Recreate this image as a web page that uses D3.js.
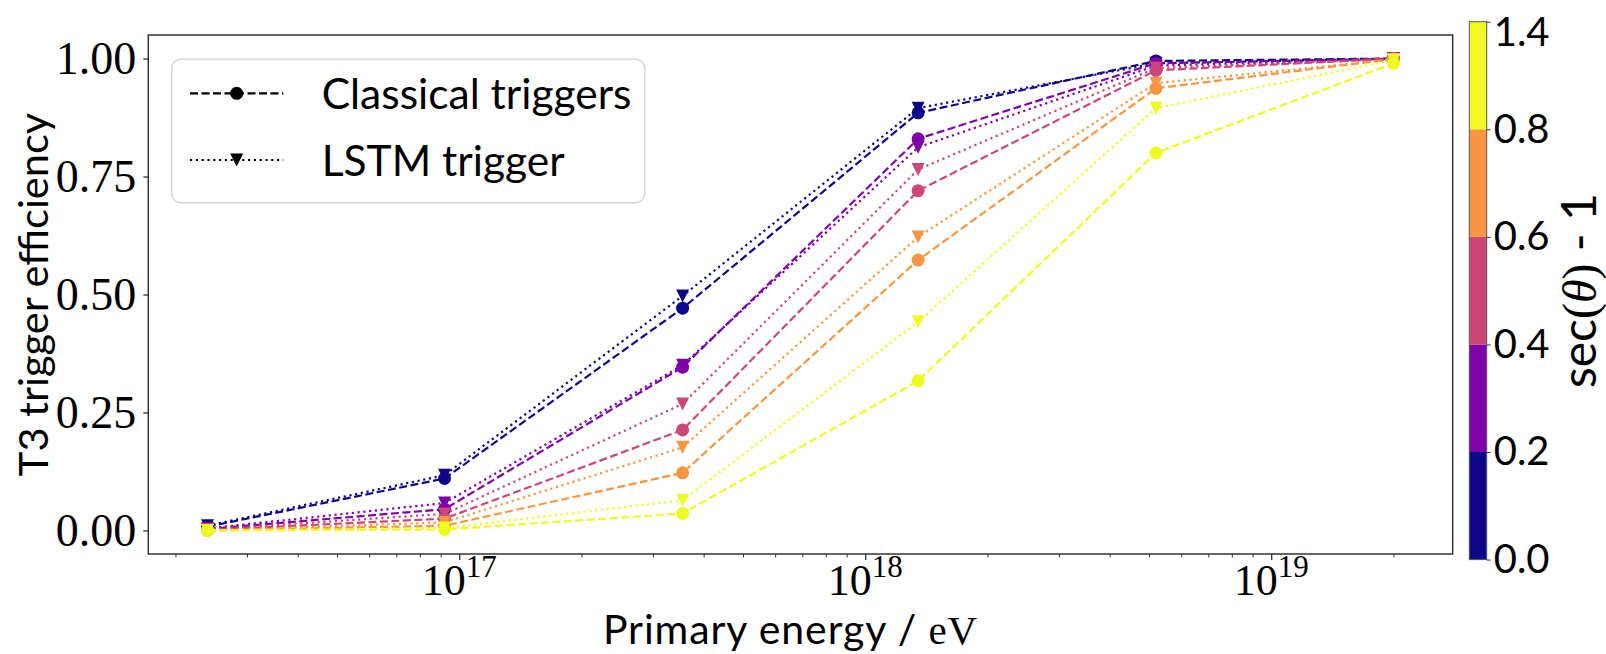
<!DOCTYPE html>
<html>
<head>
<meta charset="utf-8">
<script src="https://cdn.jsdelivr.net/npm/d3@7"></script>
<style>
  body { margin: 0; background: #fff; }
  svg { display: block; }
</style>
</head>
<body>
<svg id="chart" width="1606" height="654"></svg>
<script>
// primary energy of each bin (eV)
const energies = [2.4e16, 9.2e16, 3.55e17, 1.35e18, 5.2e18, 2.0e19];

// sec(theta) - 1 bins
const binEdges = [0.0, 0.2, 0.4, 0.6, 0.8, 1.4];
const binColors = ["#0d0887", "#7e03a8", "#cc4778", "#f89540", "#f0f921"];

// T3 efficiency, one row per zenith bin
const classical = [
    [0.008, 0.110, 0.471, 0.885, 0.995, 1.000],
    [0.003, 0.045, 0.346, 0.830, 0.990, 1.000],
    [0.001, 0.025, 0.213, 0.720, 0.975, 1.000],
    [0.000, 0.010, 0.122, 0.573, 0.937, 0.999],
    [0.000, 0.002, 0.036, 0.317, 0.800, 0.990]
];
const lstm = [
    [0.010, 0.117, 0.497, 0.895, 0.990, 1.000],
    [0.004, 0.058, 0.350, 0.812, 0.985, 0.999],
    [0.002, 0.035, 0.268, 0.765, 0.980, 0.999],
    [0.000, 0.017, 0.176, 0.622, 0.948, 0.998],
    [0.000, 0.005, 0.064, 0.442, 0.895, 0.997]
];

const yTicks = [0, 0.25, 0.5, 0.75, 1.0];
const xMajor = [1e17, 1e18, 1e19];
const legendItems = ["Classical triggers", "LSTM trigger"];

const SANS = "Lato, 'Open Sans', sans-serif";
const SERIF = "'Liberation Serif', 'DejaVu Serif', serif";

const plot = { left: 148.3, right: 1452.7, top: 35, bottom: 554 };

const svg = d3.select("#chart");

// log x with 5% margins like matplotlib autoscale
const lo = Math.log10(d3.min(energies)), hi = Math.log10(d3.max(energies));
const pad = 0.05 * (hi - lo);
const x = d3.scaleLog()
    .domain([Math.pow(10, lo - pad), Math.pow(10, hi + pad)])
    .range([plot.left, plot.right]);
const y = d3.scaleLinear().domain([-0.05, 1.05]).range([plot.bottom, plot.top]);

// minor ticks
let minor = [];
for (let p = 16; p <= 19; p++) {
    for (let m = 2; m <= 9; m++) {
        let v = m * Math.pow(10, p);
        if (v > x.domain()[0] && v < x.domain()[1]) minor.push(v);
    }
}

svg.append("g")
    .attr("transform", `translate(0,${plot.bottom})`)
    .call(d3.axisBottom(x).tickValues(minor).tickSize(3.5).tickFormat(""))
    .call(g => g.select(".domain").remove())
    .selectAll("line").attr("stroke", "#333").attr("stroke-width", 1);

const xAxis = svg.append("g")
    .attr("transform", `translate(0,${plot.bottom})`)
    .call(d3.axisBottom(x).tickValues(xMajor).tickSize(6).tickFormat(""));
xAxis.select(".domain").remove();
xAxis.selectAll("line").attr("stroke", "#333").attr("stroke-width", 1.3);

const xLab = svg.append("g").selectAll("text")
    .data(xMajor)
    .enter()
    .append("text")
    .attr("x", d => x(d))
    .attr("y", 595)
    .attr("text-anchor", "middle")
    .attr("font-family", SERIF)
    .attr("font-size", 44);
xLab.append("tspan").text("10");
xLab.append("tspan").attr("dy", -18).attr("font-size", 31).text(d => Math.round(Math.log10(d)));

const yAxis = svg.append("g")
    .attr("transform", `translate(${plot.left},0)`)
    .call(d3.axisLeft(y).tickValues(yTicks).tickSize(5).tickPadding(7).tickFormat(d3.format(".2f")));
yAxis.select(".domain").remove();
yAxis.selectAll("line").attr("stroke", "#333").attr("stroke-width", 1.3);
yAxis.selectAll("text")
    .attr("font-family", SERIF)
    .attr("font-size", 46)
    .attr("fill", "#000");

// lines and markers
const line = d3.line().x(d => x(d.e)).y(d => y(d.v));
const tri = "M-6.5,-6.5L6.5,-6.5L0,6.5Z";

binColors.forEach((col, i) => {
    const ptsL = energies.map((e, j) => ({ e: e, v: lstm[i][j] }));
    const ptsC = energies.map((e, j) => ({ e: e, v: classical[i][j] }));

    svg.append("path").datum(ptsL)
        .attr("d", line).attr("fill", "none").attr("stroke", col)
        .attr("stroke-width", 2.2).attr("stroke-dasharray", "2.2,3.6");
    svg.append("g").selectAll("path").data(ptsL).enter().append("path")
        .attr("d", tri)
        .attr("transform", d => `translate(${x(d.e)},${y(d.v)})`)
        .attr("fill", col);

    svg.append("path").datum(ptsC)
        .attr("d", line).attr("fill", "none").attr("stroke", col)
        .attr("stroke-width", 2.2).attr("stroke-dasharray", "8,3.5");
    svg.append("g").selectAll("circle").data(ptsC).enter().append("circle")
        .attr("cx", d => x(d.e)).attr("cy", d => y(d.v)).attr("r", 6.5)
        .attr("fill", col);
});

// frame
svg.append("rect")
    .attr("x", plot.left).attr("y", plot.top)
    .attr("width", plot.right - plot.left).attr("height", plot.bottom - plot.top)
    .attr("fill", "none").attr("stroke", "#333").attr("stroke-width", 1.5);

// legend
const leg = svg.append("g");
leg.append("rect")
    .attr("x", 171.7).attr("y", 59.3).attr("width", 473).attr("height", 143.4)
    .attr("rx", 9).attr("fill", "#fff").attr("fill-opacity", 0.8)
    .attr("stroke", "#d6d6d6").attr("stroke-width", 1.5);
legendItems.forEach((t, i) => {
    const cy = 93.3 + i * 66.7;
    leg.append("line")
        .attr("x1", 190).attr("x2", 283.3).attr("y1", cy).attr("y2", cy)
        .attr("stroke", "#000").attr("stroke-width", 2.2)
        .attr("stroke-dasharray", i == 0 ? "8,3.5" : "2.2,3.6");
    if (i == 0) {
        leg.append("circle").attr("cx", 236.7).attr("cy", cy).attr("r", 6.5).attr("fill", "#000");
    } else {
        leg.append("path").attr("d", tri).attr("transform", `translate(236.7,${cy})`).attr("fill", "#000");
    }
    leg.append("text")
        .attr("x", 321.7).attr("y", cy + 16)
        .attr("font-family", SANS).attr("font-size", 42.5)
        .text(t);
});

// axis labels
svg.append("text")
    .attr("x", (plot.left + plot.right) / 2 - 10).attr("y", 644)
    .attr("text-anchor", "middle")
    .attr("font-family", SANS).attr("font-size", 41)
    .attr("letter-spacing", 0.9)
    .call(t => {
        t.append("tspan").text("Primary energy / ");
        t.append("tspan").attr("font-family", SERIF).text("eV");
    });

svg.append("text")
    .attr("transform", `translate(48,${(plot.top + plot.bottom) / 2}) rotate(-90)`)
    .attr("text-anchor", "middle")
    .attr("font-family", SANS).attr("font-size", 41.5)
    .text("T3 trigger efficiency");

// colorbar
const cb = d3.scalePoint().domain(binEdges).range([559.6, 21.7]);
const cbX = 1469.3, cbW = 17.4;
svg.append("g").selectAll("rect")
    .data(binColors)
    .enter()
    .append("rect")
    .attr("x", cbX)
    .attr("y", (d, i) => cb(binEdges[i + 1]))
    .attr("width", cbW)
    .attr("height", (d, i) => cb(binEdges[i]) - cb(binEdges[i + 1]))
    .attr("fill", d => d);
svg.append("rect")
    .attr("x", cbX).attr("y", cb(1.4)).attr("width", cbW).attr("height", cb(0) - cb(1.4))
    .attr("fill", "none").attr("stroke", "#555").attr("stroke-width", 1);

const cbAxis = svg.append("g")
    .attr("transform", `translate(${cbX + cbW},0)`)
    .call(d3.axisRight(cb).tickSize(4).tickPadding(3).tickFormat(d => d.toFixed(1)));
cbAxis.select(".domain").remove();
cbAxis.selectAll("line").attr("stroke", "#333");
cbAxis.selectAll("text")
    .attr("font-family", SANS)
    .attr("font-size", 40)
    .attr("fill", "#000");
// top label sits a little lower so it stays inside the figure
cbAxis.selectAll(".tick").filter(d => d == 1.4).select("text").attr("y", 11);

svg.append("text")
    .attr("transform", `translate(1596,${(cb(0) + cb(1.4)) / 2}) rotate(-90)`)
    .attr("text-anchor", "middle")
    .attr("font-family", SANS).attr("font-size", 48)
    .call(t => {
        t.append("tspan").text("sec");
        t.append("tspan").attr("font-family", SERIF).text("(");
        t.append("tspan").attr("font-family", SERIF).attr("font-style", "italic").text("θ");
        t.append("tspan").attr("font-family", SERIF).text(")");
        t.append("tspan").text(" - 1");
    });
</script>
</body>
</html>
